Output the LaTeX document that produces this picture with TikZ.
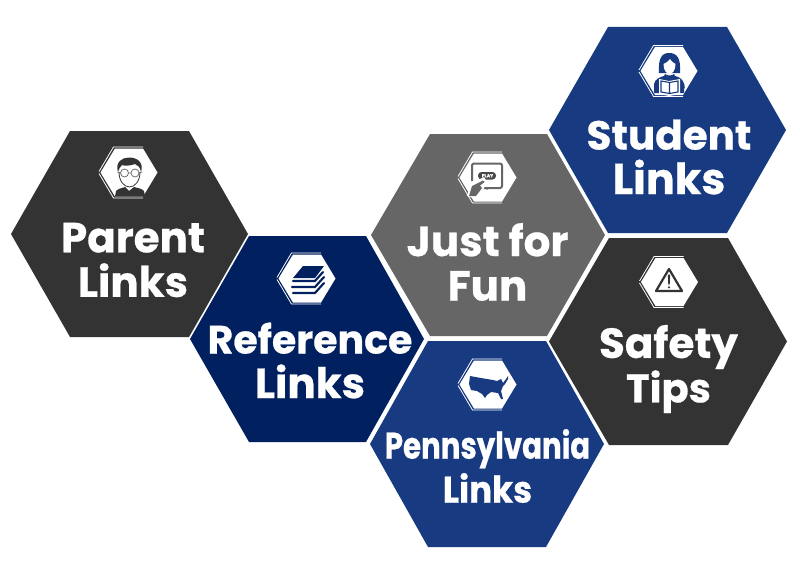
\documentclass[tikz,border=0pt]{standalone}
\usepackage{fontspec}
\setmainfont{Poppins}[BoldFont={Poppins Bold}]
\newfontfamily\headfont{Poppins Bold}[FakeBold=0.6]
\newfontfamily\pennfont{Poppins Bold}[FakeBold=0.6,FakeStretch=0.79]
\newfontfamily\linksfont{Poppins Bold}[FakeBold=0.6,FakeStretch=0.92]
\definecolor{darkgrey}{HTML}{333333}
\definecolor{midgrey}{HTML}{666666}
\definecolor{navy}{HTML}{00205F}
\definecolor{royal}{HTML}{183A80}
\tikzset{
  iconrim/.style={draw=white,line width=0.8pt,fill=none},
  label/.style={text=white,align=center,inner sep=0pt},
}
% #1 left x, #2 inner-left x, #3 inner-right x, #4 right x, #5 top y, #6 bottom y, #7 colour
\newcommand{\hexa}[7]{%
  \fill[#7] (#1,{(#5+#6)/2}) -- (#2,#5) -- (#3,#5) -- (#4,{(#5+#6)/2}) -- (#3,#6) -- (#2,#6) -- cycle;}
\newcommand{\iconhex}[2]{%
  \fill[white] (#1-28.5,#2) -- (#1-14,#2-24) -- (#1+14,#2-24) -- (#1+28.5,#2) -- (#1+14,#2+24) -- (#1-14,#2+24) -- cycle;
  \draw[iconrim] (#1-30,#2-1) -- (#1-15.5,#2-25.5) -- (#1+14,#2-25.5);
  \draw[iconrim] (#1-30,#2+1) -- (#1-15.5,#2+25.5) -- (#1+14,#2+25.5);}
\newcommand{\hd}[1]{\headfont\fontsize{#1}{44.5}\selectfont}
\begin{document}
\begin{tikzpicture}[x=1pt,y=-1pt]
\useasboundingbox (0,0) rectangle (800,578);
\hexa{11}{70}{189}{248}{131}{337}{darkgrey}
\hexa{190}{249}{366}{424}{236}{442}{navy}
\hexa{371}{430}{547}{605}{134}{336}{midgrey}
\hexa{549}{608}{727}{786}{27}{233}{royal}
\hexa{549}{609}{728}{787}{238}{445}{darkgrey}
\hexa{370}{428}{546}{604}{341}{547}{royal}
% icon plates
\iconhex{129}{172.5}
\iconhex{307}{278.5}
\iconhex{488}{177.5}
\iconhex{669}{71}
\iconhex{669.5}{282}
\iconhex{488}{384.5}
% Parent icon
\fill[darkgrey] (115,196.500) -- (116,191) .. controls (119,188) and (123,188) .. (125,187) -- (129,191) -- (134,187) .. controls (137,188) and (141,188) .. (144,191) -- (145,196.500) -- cycle;
\draw[darkgrey,line width=0.8pt] (119,172) .. controls (119,181) and (124,187) .. (129.500,187) .. controls (135,187) and (140,181) .. (140,172);
\fill[darkgrey] (118,172) .. controls (115,162) and (122,157.500) .. (129,157.500) .. controls (137,157.500) and (144,162) .. (141,172) .. controls (140,167) and (138,165) .. (135,164) .. controls (130,166) and (124,166) .. (122,165) .. controls (120,167) and (119,169) .. (118,172) -- cycle;
\draw[darkgrey!70,line width=0.8pt] (124.500,173) circle (4) (135,173) circle (4) (128.500,173) -- (131,173) (120.500,173) -- (117.500,172) (139,173) -- (142,172);
% Reference icon
\fill[navy] (293,278) -- (303,266) -- (324,266) -- (315,278) -- cycle;
\draw[navy,line width=2.100pt,line cap=round] (293,281) -- (315,281) -- (323,272) (292,287) -- (315,287) -- (324,277) (293,293) -- (315,293) -- (324,283);
% Play icon
\draw[midgrey,line width=2pt,rounded corners=2pt] (472,181) -- (472,163.500) -- (502,163.500) -- (502,188) -- (480,188);
\fill[darkgrey!90,rounded corners=3.500pt] (478,172) rectangle (496,179.500);
\node[text=white,font=\headfont\fontsize{4.5}{5}\selectfont,inner sep=0pt] (playtext) at (487.500,175.700) {PLAY};
\fill[white] (467,196) -- (470,184) -- (484,177) -- (487,182) -- (483,190) -- (476,199) -- cycle;
\fill[midgrey] (469,196) -- (472,186) -- (483,180.500) -- (484.500,182) -- (480,185.500) -- (482,188) -- (476,196) -- cycle;
\fill[midgrey] (487,189) circle (0.800);
% Student icon
\fill[royal] (659,73) .. controls (658,58) and (662,53) .. (669,53) .. controls (677,53) and (681,58) .. (680,73) -- cycle;
\fill[white] (663.500,64) .. controls (666,63) and (669,61) .. (670,59) .. controls (672,62) and (674,63) .. (675.500,64) .. controls (675.500,71) and (672,74) .. (669.500,74) .. controls (667,74) and (663.500,71) .. (663.500,64) -- cycle;
\fill[royal] (665,74) .. controls (667,76) and (672,76) .. (674,74) -- (675,76) .. controls (679,77) and (683,79) .. (684,84) -- (684,93) -- (654,93) -- (654,84) .. controls (655,79) and (660,77) .. (664,76) -- cycle;
\fill[white] (659,79) -- (669,81) -- (680,79) -- (680,94) -- (669,96) -- (659,94) -- cycle;
\draw[royal,line width=1.100pt] (669.500,82) -- (669.500,94) (661,81) -- (669.500,82.500) -- (678,81) -- (678,92) -- (669.500,93.500) -- (661,92) -- cycle;
\draw[royal,line width=1.200pt] (657,82) .. controls (654,85) and (654,90) .. (658,91) (682,82) .. controls (685,85) and (685,90) .. (681,91);
% Warning icon
\draw[darkgrey,line width=2.200pt,line join=round] (669,269) -- (656,291) -- (682,291) -- cycle;
\fill[darkgrey] (667.800,274.500) -- (670.200,274.500) -- (669.700,284.500) -- (668.300,284.500) -- cycle;
\fill[darkgrey] (669,287.300) circle (1.200);
% USA icon
\fill[royal] (470,376) -- (481,378) -- (493,380) -- (497,381) -- (501,379) -- (503,383) -- (506,379) -- (508,376) -- (508,379) -- (505,384) -- (503,386) -- (501,391) -- (503,399) -- (501,399) -- (498,393) -- (491,392) -- (487,395) -- (485,398) -- (482,394) -- (477,391) -- (471,390) -- (469,384) -- cycle;
% labels
\node[label,font=\hd{42}] (parent) at (133,260) {Parent\\Links};
\node[label,font=\hd{39.5}] (reference) at (310,360.500) {Reference\\{\fontsize{42}{44.5}\selectfont Links}};
\node[label,font=\hd{42}] (fun) at (487.500,262) {Just for\\Fun};
\node[label,font=\hd{40.5}] (student) at (669,157) {Student\\{\fontsize{43}{44.5}\selectfont Links}};
\node[label,font=\hd{42}] (safety) at (668.500,369) {Safety\\{\fontsize{40}{44.5}\selectfont Tips}};
\node[label,font=\pennfont\fontsize{37}{44}\selectfont] (penn) at (487.500,466) {Pennsylvania\\{\linksfont Links}};
\end{tikzpicture}
\end{document}
